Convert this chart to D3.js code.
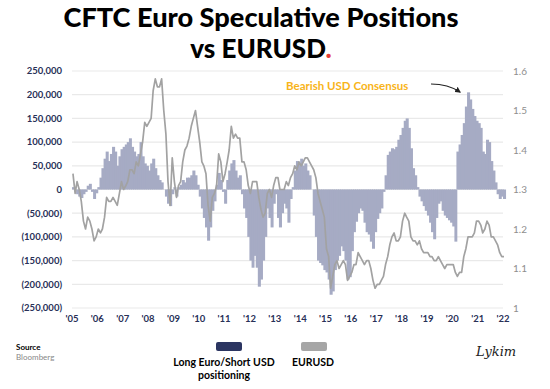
<!DOCTYPE html>
<meta charset="utf-8">
<style>
	body { margin: 0; background: #fff; }
	svg { display: block; font-family: "Lato", "Open Sans", sans-serif; }
	.grid line { stroke: #e9e9e9; stroke-width: 1.2px; }
	.lab-left { font-size: 9.5px; font-weight: 700; fill: #283057; }
	.lab-right { font-size: 10px; fill: #8e8e8e; }
	.lab-x { font-size: 9.5px; font-weight: 700; fill: #283057; }
	.bar { fill: #a6abc4; }
	.fx { fill: none; stroke: #a2a2a2; stroke-width: 1.7px; stroke-linejoin: round; }
</style>
<svg id="chart" width="550" height="389"></svg>
<script src="https://d3js.org/d3.v7.min.js"></script>
<script>
	// monthly readings, Jan 2005 .. Jan 2022
	var startYear = 2005;

	// net speculative euro positions, thousands of contracts
	var positions = [
		5, 0, -10, -15, -18, -10, -5, 8, 12, -5, -20, -8,          // 2005
		5, 25, 45, 65, 80, 60, 75, 90, 80, 50, 70, 85,             // 2006
		90, 95, 100, 108, 90, 80, 70, 75, 100, 70, 55, 50,         // 2007
		40, 55, 65, 45, 30, 20, 15, 0, -15, -30, -35, -10,         // 2008
		5, -15, 5, 10, 20, 15, 25, 25, 30, 40, 30, 10,             // 2009
		-15, -40, -60, -80, -108, -80, -45, -25, 10, 35, 20, -5,   // 2010
		-30, 20, 40, 55, 62, 40, 25, 30, -10, -40, -60, -100,      // 2011
		-150, -165, -140, -165, -205, -190, -150, -100, -40, -60, -80, -30, // 2012
		-10, -60, -80, -50, -30, -40, -70, -20, 5, 40, 60, 55,     // 2013
		65, 50, 55, 40, 30, 0, -55, -100, -150, -155, -160, -170,  // 2014
		-175, -190, -222, -215, -170, -150, -140, -120, -130, -150, -190, -185, // 2015
		-130, -90, -68, -50, -40, -45, -70, -90, -95, -110, -125, -90, // 2016
		-62, -50, -40, -5, 30, 73, 80, 87, 85, 90, 105, 115,       // 2017
		130, 145, 150, 130, 87, 45, 30, 5, -15, -25, -35, -45,     // 2018
		-55, -70, -90, -105, -60, -30, -25, -45, -55, -60, -65, -70, // 2019
		-78, -110, 80, 95, 115, 140, 175, 205, 190, 170, 155, 145, // 2020
		140, 130, 80, 75, 105, 100, 60, 40, 15, -10, -20, -15,     // 2021
		-20                                                        // 2022
	];

	var eurusd = [
		1.34, 1.29, 1.32, 1.30, 1.27, 1.22, 1.20, 1.23, 1.22, 1.20, 1.17, 1.18,
		1.20, 1.19, 1.20, 1.23, 1.28, 1.27, 1.27, 1.28, 1.27, 1.26, 1.29, 1.32,
		1.30, 1.31, 1.32, 1.35, 1.35, 1.34, 1.37, 1.36, 1.39, 1.42, 1.47, 1.46,
		1.47, 1.48, 1.55, 1.58, 1.56, 1.56, 1.58, 1.50, 1.44, 1.32, 1.26, 1.38,
		1.32, 1.28, 1.31, 1.32, 1.37, 1.40, 1.41, 1.43, 1.46, 1.48, 1.50, 1.46,
		1.42, 1.37, 1.36, 1.34, 1.26, 1.22, 1.28, 1.29, 1.31, 1.39, 1.37, 1.32,
		1.34, 1.37, 1.40, 1.46, 1.43, 1.44, 1.43, 1.43, 1.37, 1.37, 1.35, 1.31,
		1.29, 1.32, 1.32, 1.32, 1.28, 1.25, 1.23, 1.24, 1.29, 1.30, 1.28, 1.31,
		1.33, 1.33, 1.30, 1.30, 1.30, 1.32, 1.31, 1.33, 1.34, 1.36, 1.35, 1.37,
		1.36, 1.37, 1.38, 1.38, 1.37, 1.36, 1.35, 1.33, 1.29, 1.27, 1.25, 1.23,
		1.15, 1.13, 1.05, 1.08, 1.11, 1.12, 1.10, 1.11, 1.12, 1.11, 1.07, 1.08,
		1.09, 1.11, 1.11, 1.14, 1.13, 1.12, 1.11, 1.12, 1.12, 1.10, 1.07, 1.05,
		1.06, 1.06, 1.07, 1.08, 1.11, 1.13, 1.16, 1.18, 1.19, 1.17, 1.17, 1.18,
		1.22, 1.24, 1.23, 1.22, 1.18, 1.17, 1.17, 1.16, 1.17, 1.15, 1.14, 1.14,
		1.14, 1.13, 1.13, 1.12, 1.12, 1.13, 1.12, 1.11, 1.10, 1.11, 1.11, 1.11,
		1.11, 1.09, 1.08, 1.09, 1.09, 1.13, 1.15, 1.18, 1.18, 1.18, 1.19, 1.22,
		1.22, 1.21, 1.19, 1.20, 1.22, 1.21, 1.18, 1.18, 1.17, 1.16, 1.14, 1.13,
		1.13
	];

	var yearLabels = ["'05","'06","'07","'08","'09","'10","'11","'12","'13","'14","'15","'16","'17","'18","'19","'20","'21","'22"];
	var leftTicks = [250, 200, 150, 100, 50, 0, -50, -100, -150, -200, -250];
	var rightTicks = [1.6, 1.5, 1.4, 1.3, 1.2, 1.1, 1.0];

	var svg = d3.select("#chart"),
		plotL = 72, plotR = 503, plotT = 71, plotB = 308;

	var x = d3.scaleTime()
		.domain([new Date(startYear, 0, 1), new Date(startYear + yearLabels.length - 1, 0, 1)])
		.range([plotL, plotR]);
	var y = d3.scaleLinear().domain([-250, 250]).range([plotB, plotT]);
	var y2 = d3.scaleLinear().domain([1.0, 1.6]).range([plotB, plotT]);

	var fmtK = d3.format(",");
	function leftLabel(v) {
		if (v === 0) return "0";
		var s = fmtK(Math.abs(v) * 1000);
		return v < 0 ? "(" + s + ")" : s;
	}

	// title
	var title = svg.append("g").attr("text-anchor", "middle")
		.style("font-family", "Lato, sans-serif").style("font-weight", 900).style("font-size", "26px");
	title.append("text").attr("x", 261).attr("y", 27).attr("textLength", 395).attr("lengthAdjust", "spacingAndGlyphs")
		.text("CFTC Euro Speculative Positions");
	var t2 = title.append("text").attr("x", 261).attr("y", 58);
	t2.append("tspan").text("vs EURUSD");
	t2.append("tspan").attr("fill", "#e53d36").text(".");

	// grid
	svg.append("g").attr("class", "grid")
		.selectAll("line").data(leftTicks).enter().append("line")
		.attr("x1", plotL).attr("x2", plotR)
		.attr("y1", function(d) { return y(d); })
		.attr("y2", function(d) { return y(d); });

	// left axis labels
	svg.append("g").selectAll("text").data(leftTicks).enter().append("text")
		.attr("class", "lab-left")
		.attr("x", 62).attr("y", function(d) { return y(d); })
		.attr("dy", "0.35em").attr("text-anchor", "end")
		.text(leftLabel);

	// right axis labels
	svg.append("g").selectAll("text").data(rightTicks).enter().append("text")
		.attr("class", "lab-right")
		.attr("x", 513).attr("y", function(d) { return y2(d); })
		.attr("dy", "0.35em")
		.text(function(d) { return String(+d.toFixed(1)); });

	// x labels
	svg.append("g").selectAll("text").data(yearLabels).enter().append("text")
		.attr("class", "lab-x")
		.attr("x", function(d, i) { return x(new Date(startYear + i, 0, 1)); })
		.attr("y", 322).attr("text-anchor", "middle")
		.text(function(d) { return d; });

	// positioning bars
	svg.append("g").selectAll("rect").data(positions).enter().append("rect")
		.attr("class", "bar")
		.attr("x", function(d, i) { return x(new Date(startYear, i, 1)); })
		.attr("width", function(d, i) { return x(new Date(startYear, i + 1, 1)) - x(new Date(startYear, i, 1)) + 0.9; })
		.attr("y", function(d) { return Math.min(y(d), y(0)); })
		.attr("height", function(d) { return Math.abs(y(d) - y(0)); });

	// eurusd line
	var line = d3.line()
		.x(function(d, i) { return x(new Date(startYear, i, 15)); })
		.y(function(d) { return y2(d); });
	svg.append("path").datum(eurusd).attr("class", "fx").attr("d", line);

	// annotation
	svg.append("text").attr("x", 286).attr("y", 90)
		.style("font-size", "11.5px").style("font-weight", 700).attr("fill", "#f8b419")
		.text("Bearish USD Consensus");
	svg.append("defs").append("marker").attr("id", "arr")
		.attr("viewBox", "0 0 10 10").attr("refX", 8).attr("refY", 5)
		.attr("markerWidth", 5).attr("markerHeight", 5).attr("orient", "auto")
		.append("path").attr("d", "M0,0L10,5L0,10z").attr("fill", "#222");
	svg.append("path").attr("d", "M431,84 Q448,84 460,92")
		.attr("fill", "none").attr("stroke", "#222").attr("stroke-width", 1.2)
		.attr("marker-end", "url(#arr)");

	// legend
	var lg = svg.append("g").style("font-size", "10.5px").style("font-weight", 700).attr("text-anchor", "middle");
	lg.append("rect").attr("x", 216).attr("y", 342).attr("width", 26).attr("height", 9).attr("rx", 2).attr("fill", "#2b3561");
	lg.append("rect").attr("x", 301).attr("y", 342).attr("width", 26).attr("height", 9).attr("rx", 2).attr("fill", "#a6a6a6");
	lg.append("text").attr("x", 224).attr("y", 366).text("Long Euro/Short USD");
	lg.append("text").attr("x", 224).attr("y", 379).text("positioning");
	lg.append("text").attr("x", 313).attr("y", 366).text("EURUSD");

	// source + signature
	svg.append("text").attr("x", 16).attr("y", 350).style("font-size", "8px").style("font-weight", 700).text("Source");
	svg.append("text").attr("x", 16).attr("y", 360).style("font-size", "8px").attr("fill", "#888").text("Bloomberg");
	svg.append("text").attr("x", 476).attr("y", 356)
		.style("font-family", "DejaVu Serif, serif").style("font-style", "italic").style("font-size", "13px")
		.attr("fill", "#222").text("Lykim");
</script>
